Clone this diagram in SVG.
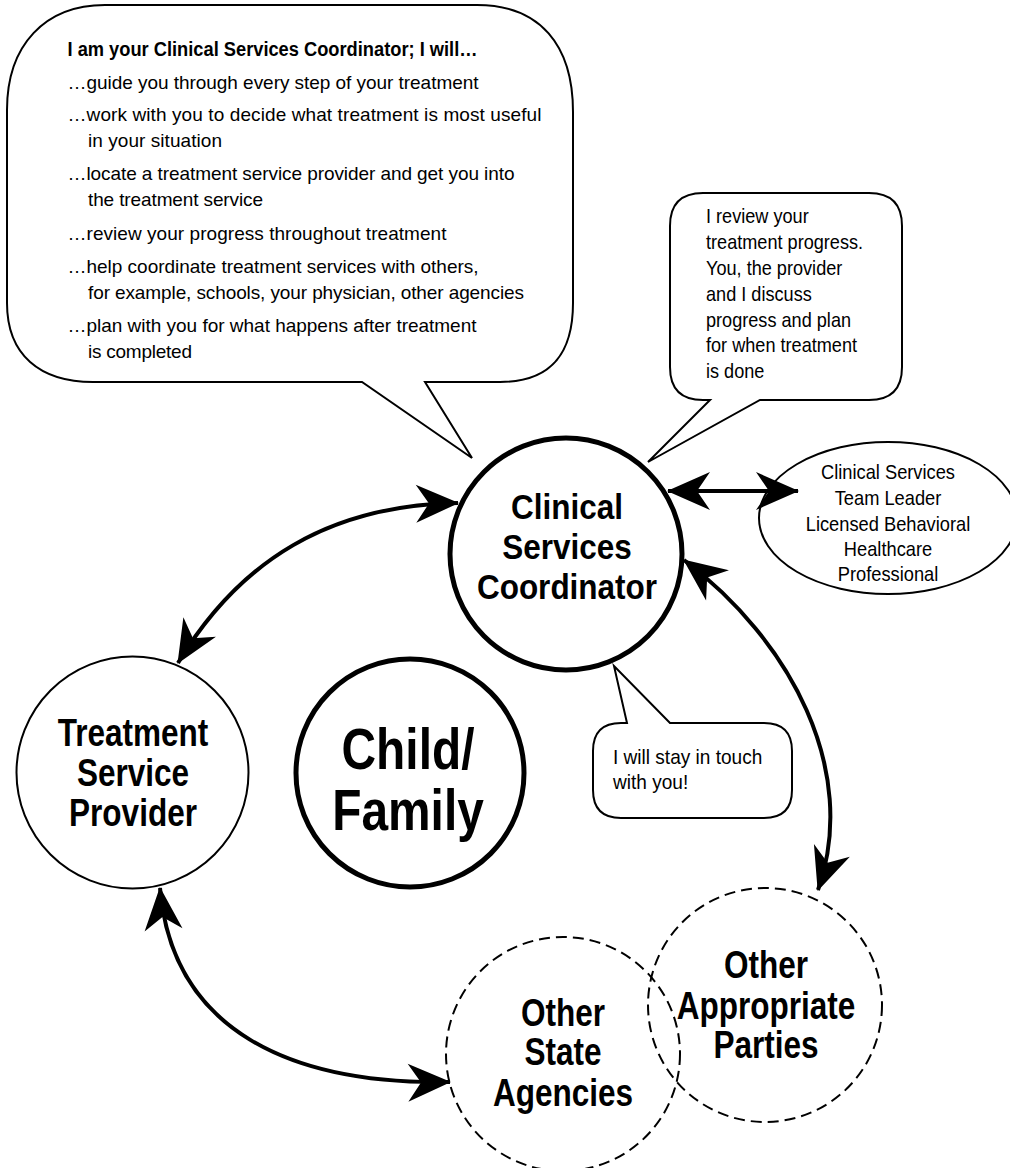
<svg xmlns="http://www.w3.org/2000/svg" width="1010" height="1168" viewBox="0 0 1010 1168">
<style>
text{font-family:'Liberation Sans',Arial,sans-serif;fill:#000}
.b{font-weight:bold;text-anchor:middle;font-size:38px}
.bc{font-weight:bold;text-anchor:middle;font-size:36px}
.big{font-weight:bold;text-anchor:middle;font-size:57px}
.t{font-size:19px}
.s{font-size:19.5px}
.w{font-size:20.5px}
.e{font-size:21px;text-anchor:middle}
.bub{fill:#fff;stroke:#000;stroke-width:2;stroke-linejoin:miter}
.node{fill:#fff;stroke:#000}
.dash{fill:none;stroke:#000;stroke-width:2;stroke-dasharray:11 6}
.conn{fill:none;stroke:#000;stroke-width:4}
</style>
<defs>
<marker id="ah" viewBox="-44 -21 46 42" refX="0" refY="0" markerWidth="46" markerHeight="42" markerUnits="userSpaceOnUse" orient="auto-start-reverse">
<path d="M1,0 L-42,-19 L-29,0 L-42,19 Z" fill="#000"/>
</marker>
</defs>

<g id="bubble-main">
<path class="bub" d="M105,5 H477 C540,5 573,45 573,112 V303 C573,355 550,382 500,382 H425 L472,458 L362,382 H93 C40,382 7,355 7,303 V110 C7,45 45,5 105,5 Z"/>
<text x="67.5" y="56" font-size="20" font-weight="bold" textLength="410" lengthAdjust="spacingAndGlyphs">I am your Clinical Services Coordinator; I will…</text>
<text class="t" x="67.5" y="89" textLength="411">…guide you through every step of your treatment</text>
<text class="t" x="67.5" y="121" textLength="474">…work with you to decide what treatment is most useful</text>
<text class="t" x="88" y="147" textLength="134">in your situation</text>
<text class="t" x="67.5" y="180" textLength="447">…locate a treatment service provider and get you into</text>
<text class="t" x="88" y="206" textLength="175">the treatment service</text>
<text class="t" x="67.5" y="240" textLength="379">…review your progress throughout treatment</text>
<text class="t" x="67.5" y="273" textLength="411">…help coordinate treatment services with others,</text>
<text class="t" x="88" y="299" textLength="436">for example, schools, your physician, other agencies</text>
<text class="t" x="67.5" y="332" textLength="409">…plan with you for what happens after treatment</text>
<text class="t" x="88" y="358" textLength="104">is completed</text>
</g>

<g id="bubble-review">
<path class="bub" d="M703,193 H869 Q902,193 902,226 V367 Q902,400 869,400 H760 L648,462 L710,400 H703 Q670,400 670,367 V226 Q670,193 703,193 Z"/>
<g transform="translate(706,0) scale(0.93,1)">
<text class="s" x="0" y="223">I review your</text>
<text class="s" x="0" y="249">treatment progress.</text>
<text class="s" x="0" y="275">You, the provider</text>
<text class="s" x="0" y="301">and I discuss</text>
<text class="s" x="0" y="327">progress and plan</text>
<text class="s" x="0" y="352">for when treatment</text>
<text class="s" x="0" y="378">is done</text>
</g>
</g>

<g id="bubble-touch">
<path class="bub" d="M621,723 H627 L614,666 L670,723 H764 Q792,723 792,751 V790 Q792,818 764,818 H621 Q593,818 593,790 V751 Q593,723 621,723 Z"/>
<g transform="translate(613,0) scale(0.93,1)">
<text class="w" x="0" y="764">I will stay in touch</text>
<text class="w" x="0" y="789">with you!</text>
</g>
</g>

<g id="node-csc">
<circle class="node" cx="566" cy="554" r="116" stroke-width="5"/>
<g transform="translate(567,0) scale(0.875,1)">
<text class="bc" x="0" y="519">Clinical</text>
<text class="bc" x="0" y="559">Services</text>
<text class="bc" x="0" y="599">Coordinator</text>
</g>
</g>

<g id="node-leader">
<ellipse class="node" cx="888" cy="518" rx="129" ry="76" stroke-width="2"/>
<g transform="translate(888,0) scale(0.87,1)">
<text class="e" x="0" y="479">Clinical Services</text>
<text class="e" x="0" y="505">Team Leader</text>
<text class="e" x="0" y="531">Licensed Behavioral</text>
<text class="e" x="0" y="556">Healthcare</text>
<text class="e" x="0" y="581">Professional</text>
</g>
</g>

<g id="node-provider">
<circle class="node" cx="132.5" cy="772.5" r="116" stroke-width="2"/>
<g transform="translate(133,0) scale(0.83,1)">
<text class="b" x="0" y="746">Treatment</text>
<text class="b" x="0" y="786">Service</text>
<text class="b" x="0" y="826">Provider</text>
</g>
</g>

<g id="node-family">
<circle class="node" cx="410" cy="773" r="114" stroke-width="5"/>
<g transform="translate(408,0) scale(0.84,1)">
<text class="big" x="0" y="769">Child/</text>
<text class="big" x="0" y="830">Family</text>
</g>
</g>

<g id="node-state">
<circle class="dash" cx="563" cy="1054" r="117"/>
<g transform="translate(563,0) scale(0.83,1)">
<text class="b" x="0" y="1026">Other</text>
<text class="b" x="0" y="1065">State</text>
<text class="b" x="0" y="1106">Agencies</text>
</g>
</g>

<g id="node-parties">
<circle class="dash" cx="765" cy="1005" r="117"/>
<g transform="translate(766,0) scale(0.83,1)">
<text class="b" x="0" y="978">Other</text>
<text class="b" x="0" y="1019">Appropriate</text>
<text class="b" x="0" y="1058">Parties</text>
</g>
</g>

<g id="connectors">
<path class="conn" d="M668,491 H798" marker-start="url(#ah)" marker-end="url(#ah)"/>
<path class="conn" d="M178,663 C240,560 330,505 458,503" marker-start="url(#ah)" marker-end="url(#ah)"/>
<path class="conn" d="M684,560 C790,640 860,770 818,890" marker-start="url(#ah)" marker-end="url(#ah)"/>
<path class="conn" d="M160,888 C172,1030 290,1085 450,1082" marker-start="url(#ah)" marker-end="url(#ah)"/>
</g>
</svg>
